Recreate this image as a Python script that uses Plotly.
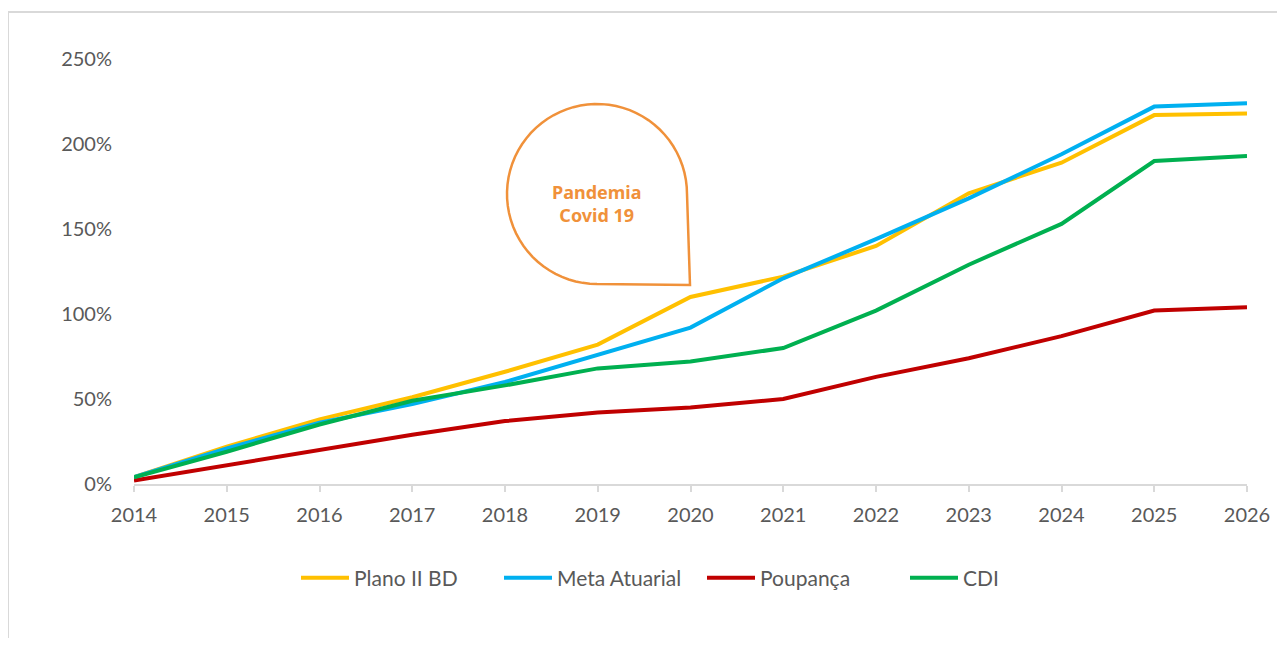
import numpy as np
import plotly.graph_objects as go

years = [2014, 2015, 2016, 2017, 2018, 2019, 2020, 2021, 2022, 2023, 2024, 2025, 2026]
plano_ii_bd = [0.04, 0.22, 0.38, 0.51, 0.66, 0.82, 1.10, 1.22, 1.40, 1.71, 1.89, 2.17, 2.18]
meta_atuarial = [0.04, 0.21, 0.36, 0.47, 0.60, 0.76, 0.92, 1.21, 1.44, 1.68, 1.94, 2.22, 2.24]
poupanca = [0.02, 0.11, 0.20, 0.29, 0.37, 0.42, 0.45, 0.50, 0.63, 0.74, 0.87, 1.02, 1.04]
cdi = [0.04, 0.19, 0.35, 0.49, 0.58, 0.68, 0.72, 0.80, 1.02, 1.29, 1.53, 1.90, 1.93]

y_ticks = [0, 0.5, 1.0, 1.5, 2.0, 2.5]
y_tick_labels = ["0%", "50%", "100%", "150%", "200%", "250%"]

series = [
    ("Plano II BD", plano_ii_bd, "#FFC000"),
    ("Meta Atuarial", meta_atuarial, "#00B0F0"),
    ("Poupança", poupanca, "#C00000"),
    ("CDI", cdi, "#00B050"),
]

OFF = 8  # page body margin
W, H = 1285 - 2 * OFF, 646 - 2 * OFF
L, R, T, B = 134, 1247, 59, 484  # plot area in screen pixels


def px(x):
    return (x - L) / (R - L)


def py(y):
    return (B - y) / (B - T)


fig = go.Figure()
for name, vals, color in series:
    fig.add_trace(go.Scatter(
        x=years, y=vals, name=name, mode="lines",
        line=dict(color=color, width=4),
    ))

# teardrop callout
cx, cy, r = 597, 194, 90
ang = np.linspace(0, 1.5 * np.pi, 60)
pts = [(cx + r * np.cos(a), cy - r * np.sin(a)) for a in ang]
pts.append((690, 285))
path = "M " + " L ".join(f"{px(x):.5f},{py(y):.5f}" for x, y in pts) + " Z"
fig.add_shape(type="path", path=path, xref="paper", yref="paper",
              line=dict(color="#F0913A", width=2.5), fillcolor="rgba(0,0,0,0)")
fig.add_annotation(x=px(597), y=py(203), xref="paper", yref="paper",
                   text="<b>Pandemia<br>Covid 19</b>", showarrow=False, yanchor="middle",
                   font=dict(family="Noto Sans", size=18, color="#F0913A"))

# chart border
fig.add_shape(type="line", xref="paper", yref="paper",
              x0=px(8), y0=py(12), x1=px(8), y1=py(700),
              line=dict(color="#D9D9D9", width=2))
fig.add_shape(type="line", xref="paper", yref="paper",
              x0=px(8), y0=py(12), x1=px(1300), y1=py(12),
              line=dict(color="#D9D9D9", width=2))

fig.update_layout(
    width=W, height=H,
    margin=dict(l=L - OFF, r=W - (R - OFF), t=T - OFF, b=H - (B - OFF)),
    paper_bgcolor="white", plot_bgcolor="white",
    font=dict(family="Lato", size=20, color="#595959"),
    showlegend=True,
    legend=dict(orientation="h", x=px(296), y=py(578), xanchor="left", yanchor="middle",
                font=dict(family="Lato", size=21, color="#595959"),
                itemwidth=48, entrywidth=140, traceorder="normal"),
    xaxis=dict(range=[2014, 2026], tickmode="array", tickvals=years,
               ticktext=[str(y) for y in years], showgrid=False, zeroline=False,
               showline=True, linecolor="#D9D9D9", linewidth=2,
               ticks="outside", ticklen=6, tickcolor="#D9D9D9", tickwidth=1.5,
               ticklabelstandoff=6, automargin=False),
    yaxis=dict(range=[0, 2.5], tickmode="array", tickvals=y_ticks, ticktext=y_tick_labels,
               showgrid=False, zeroline=False, showline=False,
               ticklabelstandoff=21, automargin=False),
)

fig.write_html("out.html")
